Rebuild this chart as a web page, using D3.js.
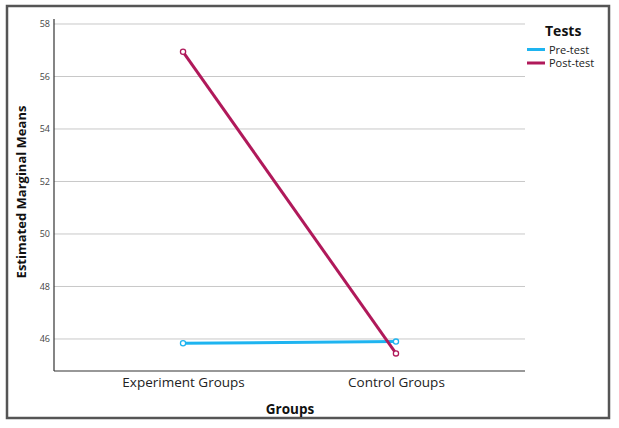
<!DOCTYPE html>
<html>
<head>
<meta charset="utf-8">
<script src="https://cdn.jsdelivr.net/npm/d3@7"></script>
<style>
  body { margin: 0; background: #fff; }
  text { font-family: "Open Sans", "DejaVu Sans", sans-serif; }
</style>
</head>
<body>
<svg id="chart" width="619" height="428"></svg>
<script>
const categories = ["Experiment Groups", "Control Groups"];
const seriesNames = ["Pre-test", "Post-test"];
const preTest = [45.84, 45.90];
const postTest = [56.94, 45.45];
const yTicks = [46, 48, 50, 52, 54, 56, 58];
const colors = ["#1eb4f0", "#b0195a"];

const svg = d3.select("#chart");
const plot = { left: 54, right: 525, top: 19, bottom: 371 };

// outer frame
svg.append("rect").attr("x", 7).attr("y", 6).attr("width", 602).attr("height", 412)
  .attr("fill", "none").attr("stroke", "#555").attr("stroke-width", 2.5);

const y = d3.scaleLinear().domain([44.78, 58.19]).range([plot.bottom, plot.top]);
const x = d3.scalePoint().domain(categories).range([plot.left, plot.right]).padding(0.606);

// gridlines
svg.append("g").selectAll("line").data(yTicks).join("line")
  .attr("x1", plot.left).attr("x2", plot.right)
  .attr("y1", d => y(d)).attr("y2", d => y(d))
  .attr("stroke", "#c8c8c8").attr("stroke-width", 1);

// y axis
const yAxis = svg.append("g").attr("transform", `translate(${plot.left},0)`)
  .call(d3.axisLeft(y).tickValues(yTicks).tickSize(0).tickPadding(4));
yAxis.select(".domain").remove();
yAxis.selectAll("text").attr("font-size", 9).attr("fill", "#444");

// x axis
const xAxis = svg.append("g").attr("transform", `translate(0,${plot.bottom})`)
  .call(d3.axisBottom(x).tickSize(0).tickPadding(6));
xAxis.select(".domain").remove();
xAxis.selectAll("text").attr("font-size", 13.5).attr("fill", "#222");

// axis lines
svg.append("line").attr("x1", plot.left).attr("x2", plot.left)
  .attr("y1", plot.top).attr("y2", plot.bottom).attr("stroke", "#333").attr("stroke-width", 1.2);
svg.append("line").attr("x1", plot.left).attr("x2", plot.right)
  .attr("y1", plot.bottom).attr("y2", plot.bottom).attr("stroke", "#333").attr("stroke-width", 1.2);

// titles
svg.append("text").attr("x", 290).attr("y", 414).attr("text-anchor", "middle")
  .attr("font-size", 13.5).attr("font-weight", "bold").attr("fill", "#111").text("Groups");
svg.append("text").attr("transform", `translate(26,192) rotate(-90)`)
  .attr("text-anchor", "middle").attr("font-size", 13).attr("font-weight", "bold")
  .attr("fill", "#111").text("Estimated Marginal Means");

// lines
const series = [preTest, postTest];
const line = d3.line().x((d, i) => x(categories[i])).y(d => y(d));
series.forEach((vals, si) => {
  svg.append("path").datum(vals).attr("d", line).attr("fill", "none")
    .attr("stroke", colors[si]).attr("stroke-width", 3);
  svg.append("g").selectAll("circle").data(vals).join("circle")
    .attr("cx", (d, i) => x(categories[i])).attr("cy", d => y(d)).attr("r", 2.6)
    .attr("fill", "#fff").attr("stroke", colors[si]).attr("stroke-width", 1.3);
});

// legend
svg.append("text").attr("x", 545).attr("y", 36).attr("font-size", 14)
  .attr("font-weight", "bold").attr("fill", "#111").text("Tests");
seriesNames.forEach((n, i) => {
  const ly = 49.5 + i * 13.5;
  svg.append("line").attr("x1", 527).attr("x2", 545).attr("y1", ly).attr("y2", ly)
    .attr("stroke", colors[i]).attr("stroke-width", 3);
  svg.append("text").attr("x", 549).attr("y", ly + 4).attr("font-size", 11)
    .attr("fill", "#222").text(n);
});
</script>
</body>
</html>
